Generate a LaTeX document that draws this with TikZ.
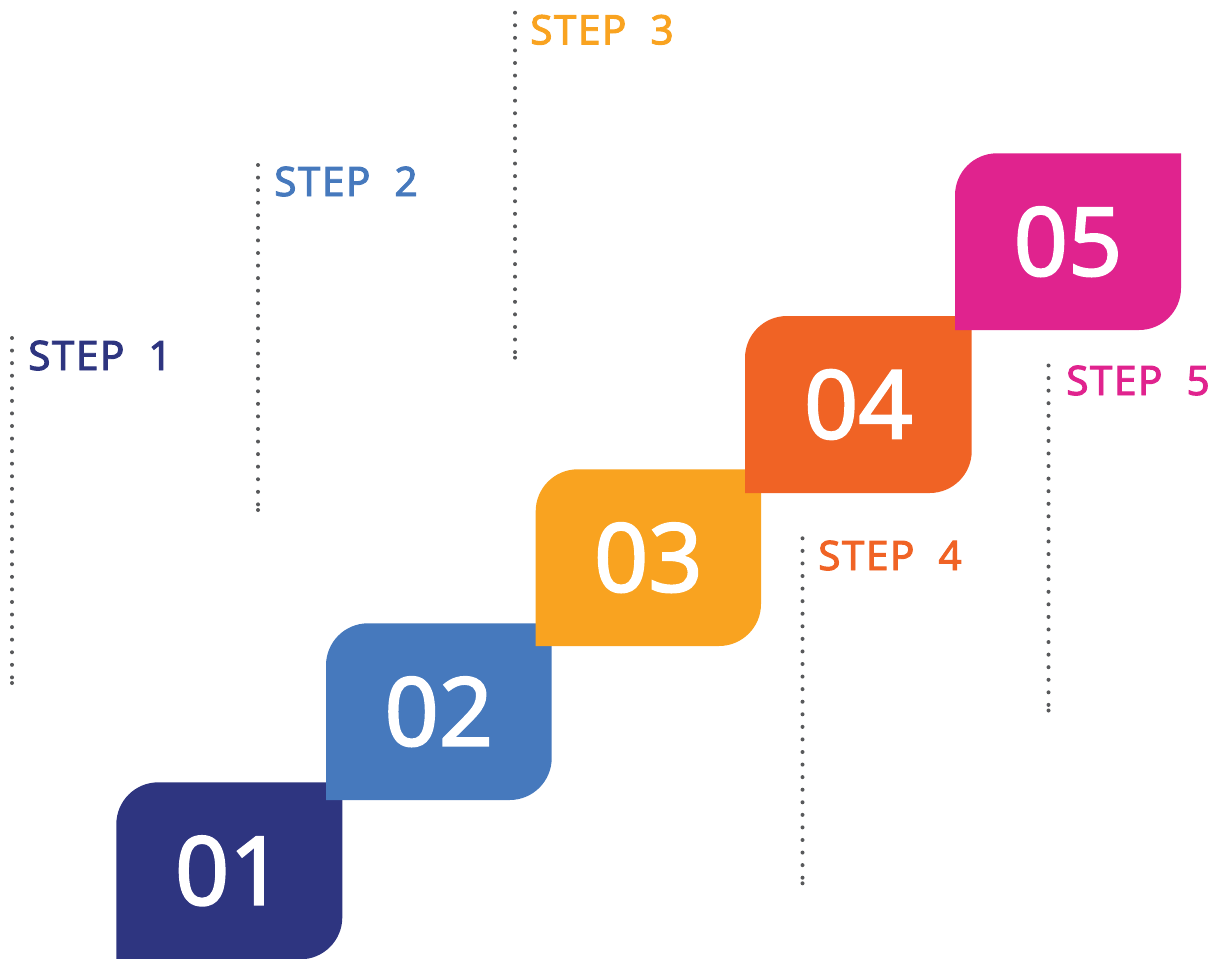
\documentclass[tikz,border=0pt]{standalone}
\usepackage{fontspec}
\setmainfont{Noto Sans}
\newfontfamily\numfont{Noto Sans}[RawFeature={embolden=2}]
\newfontfamily\stepfont{Noto Sans}[RawFeature={embolden=2.3}, LetterSpace=3.5]
\definecolor{cone}{HTML}{2E3580}
\definecolor{ctwo}{HTML}{4679BD}
\definecolor{cthree}{HTML}{F9A320}
\definecolor{cfour}{HTML}{F06325}
\definecolor{cfive}{HTML}{E0238E}
\definecolor{dotgray}{HTML}{58595B}
\tikzset{
  dotline/.style={line width=4pt, line cap=round, dash pattern=on 0pt off 12.57pt, draw=dotgray},
  steplabel/.style={anchor=base west, inner sep=0pt, font=\stepfont\fontsize{40.6}{44}\selectfont},
  numlabel/.style={inner sep=0pt, text=white, font=\numfont\fontsize{95}{105}\selectfont},
}
\begin{document}
\begin{tikzpicture}[x=1pt,y=-1pt]
\useasboundingbox (0,0) rectangle (1225,958);
% step boxes, later ones on top
\foreach \L/\T/\R/\B/\c/\n in {116.3/782.3/342.3/959.3/cone/01,
  326/623.3/551.7/800/ctwo/02,
  535.7/469.3/761/646/cthree/03,
  745/316/971.7/493/cfour/04,
  955/153.3/1181/330/cfive/05}{
  \fill[\c] (\L,\B) [rounded corners=42pt] -- (\L,\T) [sharp corners] -- (\R,\T)
     [rounded corners=42pt] -- (\R,\B) [sharp corners] -- cycle;
  \node[numlabel] (num\n) at ({(\L+\R)/2},{(\T+\B)/2}) {\n};
}
% dotted guide lines
\foreach \i/\x/\t in {1/12/338, 2/258/165, 3/515/12.7, 4/802.5/538.3, 5/1048.5/365.5}{
  \coordinate (top\i) at (\x,\t);
  \coordinate (end\i) at (\x,\t+345);
  \draw[dotline] (top\i) -- (end\i);
  \fill[dotgray] (end\i) circle (2pt);
}
% labels
\node[steplabel, text=cone]   (step1) at (28,370)    {STEP\hspace{24pt}1};
\node[steplabel, text=ctwo]   (step2) at (274,196)   {STEP\hspace{24pt}2};
\node[steplabel, text=cthree] (step3) at (530,44.3)  {STEP\hspace{24pt}3};
\node[steplabel, text=cfour]  (step4) at (818,570)   {STEP\hspace{24pt}4};
\node[steplabel, text=cfive]  (step5) at (1066,395)  {STEP\hspace{24pt}5};
\end{tikzpicture}
\end{document}
